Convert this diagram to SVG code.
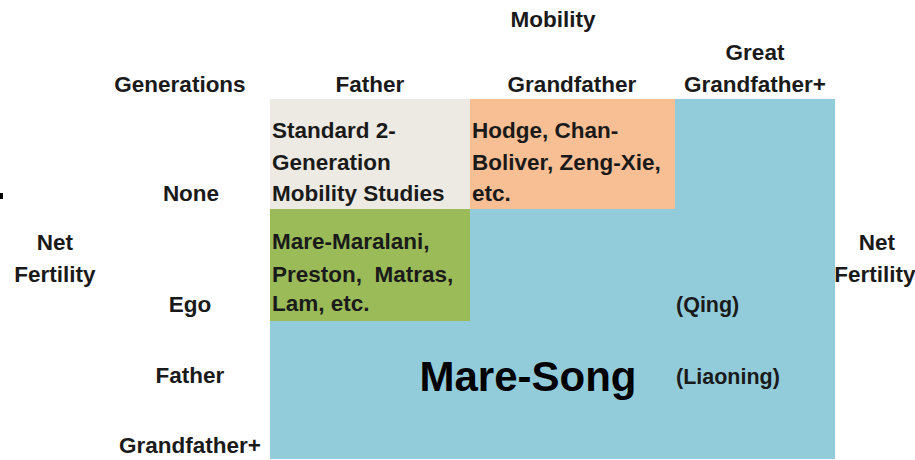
<svg xmlns="http://www.w3.org/2000/svg" width="915" height="460" viewBox="0 0 915 460">
<style>
text{font-family:"Liberation Sans",Arial,sans-serif;font-weight:bold;fill:#1a1a1a;font-size:22.5px}
.c{text-anchor:middle}
.big{font-size:42px;fill:#000}
.sm{font-size:21.5px}
</style>
<rect width="915" height="460" fill="#fff"/>
<g id="blue"><rect x="270" y="99" width="565" height="360" fill="#92CCDB"/>
<text class="big" x="528" y="391" text-anchor="middle">Mare-Song</text>
<text class="sm" x="676" y="312">(Qing)</text>
<text class="sm" x="676" y="384">(Liaoning)</text></g>
<g id="beige"><rect x="270" y="99" width="200" height="110" fill="#ECEAE3"/>
<text x="272" y="138">Standard 2-</text><text x="272" y="170">Generation</text><text x="272" y="201">Mobility Studies</text></g>
<g id="orange"><rect x="470" y="99" width="205" height="110" fill="#F8BF94"/>
<text x="472" y="138">Hodge, Chan-</text><text x="472" y="170">Boliver, Zeng-Xie,</text><text x="472" y="201">etc.</text></g>
<g id="green"><rect x="270" y="209" width="200" height="112" fill="#9BBB59"/>
<text x="272" y="249">Mare-Maralani,</text><text x="272" y="282" xml:space="preserve">Preston,  Matras,</text><text x="272" y="311">Lam, etc.</text></g>
<g id="labels">
<text class="c" x="553" y="27">Mobility</text>
<text class="c" x="180" y="92">Generations</text>
<text class="c" x="370" y="92">Father</text>
<text class="c" x="572" y="92">Grandfather</text>
<text class="c" x="755" y="60">Great</text>
<text class="c" x="755" y="92">Grandfather+</text>
<text class="c" x="191" y="201">None</text>
<text class="c" x="190" y="312">Ego</text>
<text class="c" x="190" y="383">Father</text>
<text class="c" x="190" y="453">Grandfather+</text>
<text class="c" x="55" y="250">Net</text>
<text class="c" x="55" y="282">Fertility</text>
<text class="c" x="877" y="250">Net</text>
<text class="c" x="875" y="282">Fertility</text>
</g>
<rect x="0" y="193" width="3" height="6" fill="#000"/>
</svg>
